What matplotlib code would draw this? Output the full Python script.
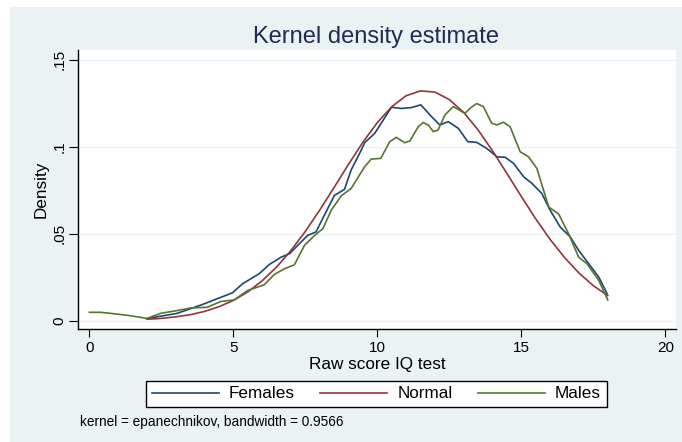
import matplotlib
matplotlib.use('Agg')
import matplotlib.pyplot as plt
from matplotlib.patches import Rectangle

plt.rcParams['font.family'] = ['Liberation Sans', 'DejaVu Sans']

# Females kernel density
fem_x = [2.03, 3.05, 3.98, 4.33, 4.97, 5.32, 5.90, 6.25, 6.66, 6.95, 7.58, 7.87, 8.16, 8.51,
         8.86, 9.09, 9.44, 9.56, 9.91, 10.49, 10.84, 11.18, 11.51, 11.88, 12.17, 12.46, 12.81,
         13.14, 13.45, 13.80, 14.15, 14.44, 14.73, 15.08, 15.37, 15.71, 16.00, 16.35, 16.70,
         16.99, 17.34, 17.69, 17.98]
fem_y = [0.0013, 0.0042, 0.0096, 0.0119, 0.0160, 0.0212, 0.0270, 0.0323, 0.0365, 0.0385,
         0.0490, 0.0510, 0.0606, 0.0720, 0.0755, 0.0866, 0.0980, 0.1023, 0.1077, 0.1227,
         0.1220, 0.1225, 0.1241, 0.1173, 0.1125, 0.1144, 0.1106, 0.1029, 0.1025, 0.0990,
         0.0942, 0.0939, 0.0904, 0.0827, 0.0789, 0.0731, 0.0635, 0.0538, 0.0481, 0.0404,
         0.0327, 0.0250, 0.0154]

# Normal density
norm_x = [2, 2.5, 3, 3.5, 4, 4.5, 5, 5.5, 6, 6.5, 7, 7.5, 8, 8.5, 9, 9.5, 10, 10.5, 11,
          11.5, 12, 12.5, 13, 13.5, 14, 14.5, 15, 15.5, 16, 16.5, 17, 17.5, 18]
norm_y = [0.0008, 0.0013, 0.0022, 0.0034, 0.0053, 0.0080, 0.0116, 0.0165, 0.0229, 0.0308,
          0.0403, 0.0513, 0.0636, 0.0766, 0.0899, 0.1026, 0.1139, 0.1230, 0.1293, 0.1321,
          0.1314, 0.1271, 0.1197, 0.1096, 0.0976, 0.0846, 0.0714, 0.0585, 0.0467, 0.0363,
          0.0274, 0.0201, 0.0144]

# Males kernel density
male_x = [0.0, 0.38, 0.73, 1.31, 2.01, 2.47, 3.05, 3.52, 4.10, 4.56, 5.03, 5.49, 6.07, 6.42,
          6.77, 7.12, 7.47, 7.82, 8.11, 8.40, 8.75, 9.09, 9.56, 9.79, 10.12, 10.43, 10.66,
          10.95, 11.13, 11.42, 11.59, 11.77, 11.94, 12.11, 12.35, 12.64, 12.93, 13.05, 13.22,
          13.45, 13.68, 13.97, 14.15, 14.38, 14.61, 14.96, 15.25, 15.54, 15.95, 16.30, 16.64,
          16.99, 17.28, 17.69, 18.0]
male_y = [0.0048, 0.0048, 0.0042, 0.0031, 0.0013, 0.0042, 0.0058, 0.0073, 0.0077, 0.0110,
          0.0119, 0.0173, 0.0206, 0.0265, 0.0298, 0.0321, 0.0433, 0.0490, 0.0529, 0.0635,
          0.0718, 0.0760, 0.0885, 0.0929, 0.0933, 0.1029, 0.1054, 0.1023, 0.1033, 0.1115,
          0.1139, 0.1125, 0.1087, 0.1096, 0.1183, 0.1231, 0.1202, 0.1193, 0.1221, 0.1248,
          0.1231, 0.1135, 0.1125, 0.1141, 0.1115, 0.0971, 0.0942, 0.0875, 0.0654, 0.0612,
          0.0500, 0.0365, 0.0327, 0.0231, 0.0119]

x_ticks = [0, 5, 10, 15, 20]
y_ticks = [0, 0.05, 0.1, 0.15]
y_ticklabels = ['0', '.05', '.1', '.15']

bg = '#eaf2f3'
W, H = 682, 442

fig = plt.figure(figsize=(W / 100, H / 100), dpi=100)
fig.patch.set_facecolor('white')
fig.add_artist(Rectangle((10 / W, 0), 1, 1 - 7 / H, transform=fig.transFigure,
                         facecolor=bg, edgecolor='none', zorder=-10))

ax = fig.add_axes([78.3 / W, 1 - 329 / H, (676 - 78.3) / W, (329 - 50) / H])
ax.set_facecolor('white')

ax.plot(fem_x, fem_y, color='#1a476f', lw=1.2, label='Females')
ax.plot(norm_x, norm_y, color='#90353b', lw=1.2, label='Normal')
ax.plot(male_x, male_y, color='#55752f', lw=1.2, label='Males')

ax.set_xlim(-0.383, 20.37)
ax.set_ylim(-0.0048, 0.1556)
ax.set_xticks(x_ticks)
ax.set_yticks(y_ticks)
ax.set_yticklabels(y_ticklabels, rotation=90, va='center')
ax.tick_params(axis='y', length=6.5, width=0.8, pad=2, labelsize=11)
ax.tick_params(axis='x', length=5.5, width=0.8, pad=3, labelsize=11)
for yv in y_ticks:
    ax.axhline(yv, color=bg, lw=1.0, zorder=0)

for s in ['top', 'right']:
    ax.spines[s].set_visible(False)
for s in ['left', 'bottom']:
    ax.spines[s].set_linewidth(1.0)

ax.set_xlabel('Raw score IQ test', fontsize=12.3, va='center')
ax.xaxis.set_label_coords(0.5, (329 - 365) / 279)
ax.set_ylabel('Density', fontsize=12.3, va='center')
ax.yaxis.set_label_coords((41 - 78.3) / 597.7, 0.5)

fig.text(0.552, 1 - 37 / H, 'Kernel density estimate', fontsize=17, color='#1e2c53',
         ha='center', va='center')

leg = ax.legend(loc='center', bbox_to_anchor=(376.5 / W, 1 - 394 / H),
                bbox_transform=fig.transFigure, ncol=3, fontsize=12.3,
                frameon=True, fancybox=False, edgecolor='black', framealpha=1,
                handlelength=3.9, handletextpad=0.6, columnspacing=1.5,
                borderpad=0.35)
leg.get_frame().set_linewidth(1.0)

fig.text(80 / W, 1 - 422 / H, 'kernel = epanechnikov, bandwidth = 0.9566', fontsize=9.8,
         ha='left', va='center')

fig.savefig('out.png', dpi=100, facecolor=fig.get_facecolor())
